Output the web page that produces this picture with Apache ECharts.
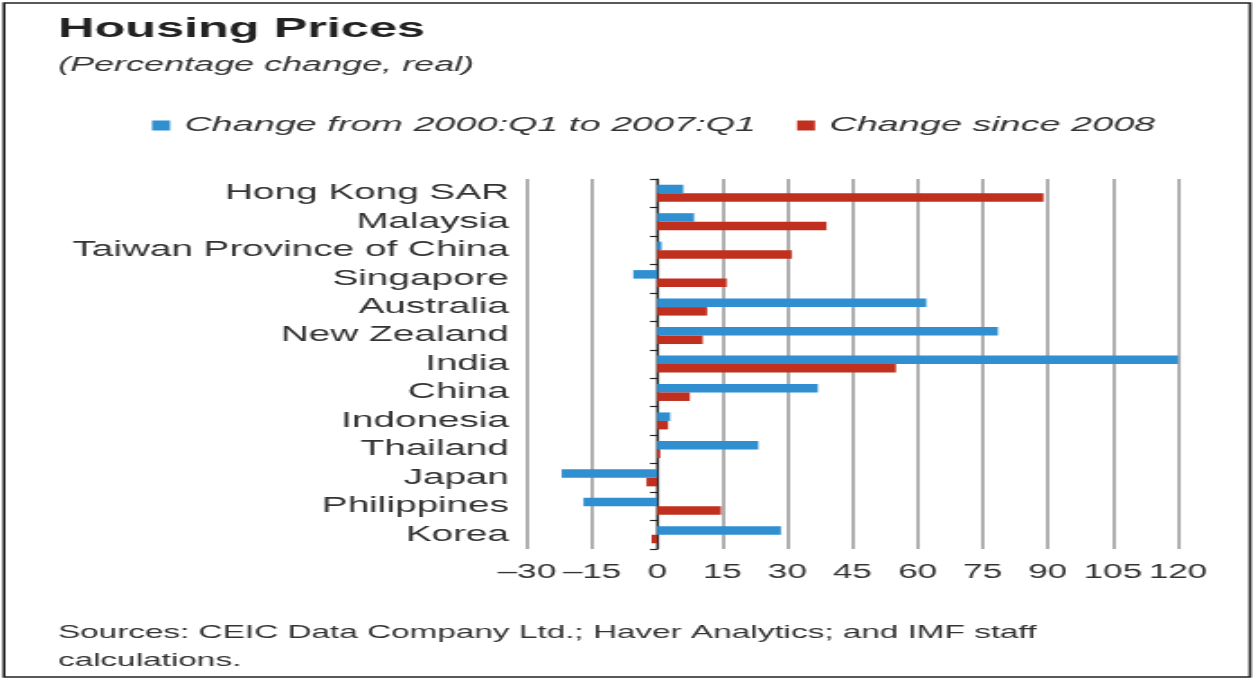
<!DOCTYPE html>
<html>
<head>
<meta charset="utf-8">
<script src="https://cdn.jsdelivr.net/npm/echarts@6/dist/echarts.min.js"></script>
<style>
html,body{margin:0;padding:0;background:#fff;overflow:hidden;}
#wrap{width:1253px;height:679px;overflow:hidden;position:relative;}
#chart{width:696px;height:679px;transform:scaleX(1.8);transform-origin:0 0;}
</style>
</head>
<body>
<div id="wrap"><div id="chart"></div></div>
<script>
var categories = ['Hong Kong SAR','Malaysia','Taiwan Province of China','Singapore','Australia','New Zealand','India','China','Indonesia','Thailand','Japan','Philippines','Korea'];
var change2000to2007 = [6, 8.5, 1, -5.5, 62, 78.5, 120.5, 37, 3, 23.3, -22, -17, 28.5];
var changeSince2008 = [89, 39, 31, 16, 11.5, 10.5, 55, 7.5, 2.5, 0.7, -2.5, 14.7, -1.3];
var seriesNames = ['Change from 2000:Q1 to 2007:Q1', 'Change since 2008'];
var xTicks = {min: -30, max: 120, interval: 15};

var S = 1.8;
var chart = echarts.init(document.getElementById('chart'), null, {renderer: 'canvas'});
var sans = '"Liberation Sans", Arial, sans-serif';

chart.setOption({
  animation: false,
  backgroundColor: '#ffffff',
  title: [
    {text: 'Housing Prices', left: 58 / S, top: 15, padding: 0,
     textStyle: {fontFamily: sans, fontWeight: 'bold', fontSize: 28, color: '#222'}},
    {text: '(Percentage change, real)', left: 58 / S, top: 55, padding: 0,
     textStyle: {fontFamily: sans, fontStyle: 'italic', fontWeight: 'normal', fontSize: 20, color: '#333'}},
    {text: 'Sources: CEIC Data Company Ltd.; Haver Analytics; and IMF staff\ncalculations.', left: 58 / S, top: 619, padding: 0,
     textStyle: {fontFamily: sans, fontWeight: 'normal', fontSize: 18.5, lineHeight: 28, color: '#333'}}
  ],
  legend: [
    {data: [seriesNames[0]], left: 152 / S, top: 115, padding: 0, icon: 'rect', itemWidth: 10, itemHeight: 10, itemGap: 0,
     textStyle: {fontFamily: sans, fontStyle: 'italic', fontSize: 21, color: '#333', padding: [0, 0, 0, 3]}},
    {data: [seriesNames[1]], left: 797 / S, top: 115, padding: 0, icon: 'rect', itemWidth: 10, itemHeight: 10, itemGap: 0,
     textStyle: {fontFamily: sans, fontStyle: 'italic', fontSize: 21, color: '#333', padding: [0, 0, 0, 3]}}
  ],
  grid: {left: 527 / S, right: 696 - 1178 / S, top: 179, bottom: 130, containLabel: false},
  xAxis: {
    type: 'value', min: xTicks.min, max: xTicks.max, interval: xTicks.interval,
    axisLine: {show: false}, axisTick: {show: false},
    axisLabel: {fontFamily: sans, fontSize: 19.5, color: '#333', margin: 14,
      formatter: function (v) { return v < 0 ? '\u2013' + Math.abs(v) : String(v); }},
    splitLine: {show: true, lineStyle: {color: '#9c9c9c', width: 1.6}}
  },
  yAxis: [
    {type: 'category', data: categories, inverse: true,
     axisLine: {show: false, onZero: false}, axisTick: {show: false},
     axisLabel: {interval: 0, fontFamily: sans, fontSize: 21.5, color: '#333', margin: 10}},
    {type: 'category', data: categories, inverse: true, position: 'left',
     axisLine: {show: true, onZero: true, lineStyle: {color: '#222', width: 1.2}},
     axisTick: {show: true, interval: 0, length: 4, lineStyle: {color: '#222', width: 1.2}},
     axisLabel: {show: false}}
  ],
  series: [
    {name: seriesNames[0], type: 'bar', data: change2000to2007, barWidth: 8.5, barGap: '0%',
     itemStyle: {color: '#2f8fd1'}},
    {name: seriesNames[1], type: 'bar', data: changeSince2008, barWidth: 8.5, barGap: '0%',
     itemStyle: {color: '#c1301f'}}
  ],
  graphic: [
    {type: 'rect', shape: {x: 4 / S, y: 3, width: (1250 - 4) / S, height: 674},
     style: {fill: null, stroke: '#222', lineWidth: 1.6}, silent: true}
  ]
});
</script>
</body>
</html>
